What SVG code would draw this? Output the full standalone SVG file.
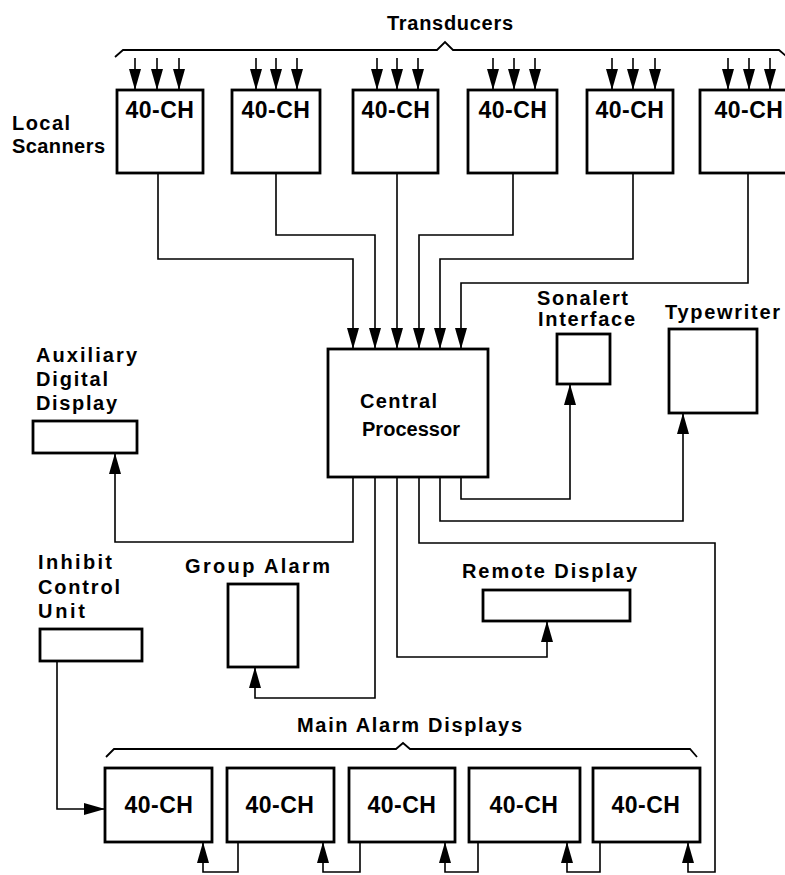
<svg xmlns="http://www.w3.org/2000/svg" width="785" height="875" viewBox="0 0 785 875">
<style>
.box{fill:#fff;stroke:#000;stroke-width:2.8}
.ln{fill:none;stroke:#000;stroke-width:1.6}
.ar{fill:none;stroke:#000;stroke-width:1.6;marker-end:url(#ah)}
.br{fill:none;stroke:#000;stroke-width:1.8}
text{font-family:"Liberation Sans",Arial,sans-serif;font-weight:bold;fill:#000}
.lb{font-size:20px}
.ch{font-size:23px;letter-spacing:0.5px;text-anchor:middle}
</style>
<defs>
<marker id="ah" markerUnits="userSpaceOnUse" markerWidth="22" markerHeight="12" refX="21" refY="6" orient="auto">
<path d="M0,0 L21,6 L0,12 Z" fill="#000"/>
</marker>
</defs>
<rect width="785" height="875" fill="#fff"/>

<g id="transducers">
<text class="lb" x="387" y="30" textLength="126" lengthAdjust="spacing">Transducers</text>
<path class="br" d="M115,57 L123,50 L437,50 L445,42 L453,50 L779,50 L786,56"/>
<path class="ar" d="M135,58 V90"/><path class="ar" d="M157,58 V90"/><path class="ar" d="M179,58 V90"/>
<path class="ar" d="M256,58 V90"/><path class="ar" d="M276,58 V90"/><path class="ar" d="M297,58 V90"/>
<path class="ar" d="M377,58 V90"/><path class="ar" d="M397,58 V90"/><path class="ar" d="M418,58 V90"/>
<path class="ar" d="M493,58 V90"/><path class="ar" d="M514,58 V90"/><path class="ar" d="M535,58 V90"/>
<path class="ar" d="M612,58 V90"/><path class="ar" d="M633,58 V90"/><path class="ar" d="M655,58 V90"/>
<path class="ar" d="M728,58 V90"/><path class="ar" d="M749,58 V90"/><path class="ar" d="M770,58 V90"/>
</g>

<g id="local-scanners-label">
<text class="lb" x="12" y="130" textLength="58" lengthAdjust="spacing">Local</text>
<text class="lb" x="12" y="153" textLength="93" lengthAdjust="spacing">Scanners</text>
</g>

<g id="scanner1"><rect class="box" x="117" y="90" width="86" height="83"/><text class="ch" x="160" y="118">40-CH</text></g>
<g id="scanner2"><rect class="box" x="232" y="90" width="88" height="83"/><text class="ch" x="276" y="118">40-CH</text></g>
<g id="scanner3"><rect class="box" x="353" y="90" width="85" height="83"/><text class="ch" x="396" y="118">40-CH</text></g>
<g id="scanner4"><rect class="box" x="468" y="90" width="89" height="83"/><text class="ch" x="513" y="118">40-CH</text></g>
<g id="scanner5"><rect class="box" x="587" y="90" width="86" height="83"/><text class="ch" x="630" y="118">40-CH</text></g>
<g id="scanner6"><rect class="box" x="700" y="90" width="92" height="83"/><text class="ch" x="749" y="118">40-CH</text></g>

<g id="central-processor">
<rect class="box" x="328" y="349" width="160" height="128"/>
<text class="lb" x="360" y="408" textLength="77" lengthAdjust="spacing">Central</text>
<text class="lb" x="362" y="436" textLength="98" lengthAdjust="spacing">Processor</text>
</g>

<g id="aux-display">
<text class="lb" x="36" y="362" textLength="101" lengthAdjust="spacing">Auxiliary</text>
<text class="lb" x="36" y="386" textLength="72" lengthAdjust="spacing">Digital</text>
<text class="lb" x="36" y="410" textLength="81" lengthAdjust="spacing">Display</text>
<rect class="box" x="33" y="421" width="104" height="32"/>
</g>

<g id="sonalert">
<text class="lb" x="537" y="305" textLength="91" lengthAdjust="spacing">Sonalert</text>
<text class="lb" x="538" y="326" textLength="97" lengthAdjust="spacing">Interface</text>
<rect class="box" x="557" y="334" width="53" height="50"/>
</g>

<g id="typewriter">
<text class="lb" x="665" y="319" textLength="115" lengthAdjust="spacing">Typewriter</text>
<rect class="box" x="669" y="329" width="88" height="84"/>
</g>

<g id="inhibit">
<text class="lb" x="38" y="569" textLength="74" lengthAdjust="spacing">Inhibit</text>
<text class="lb" x="38" y="594" textLength="82" lengthAdjust="spacing">Control</text>
<text class="lb" x="38" y="618" textLength="47" lengthAdjust="spacing">Unit</text>
<rect class="box" x="40" y="629" width="102" height="32"/>
</g>

<g id="group-alarm">
<text class="lb" x="185" y="573" textLength="145" lengthAdjust="spacing">Group Alarm</text>
<rect class="box" x="228" y="584" width="70" height="83"/>
</g>

<g id="remote-display">
<text class="lb" x="462" y="578" textLength="175" lengthAdjust="spacing">Remote Display</text>
<rect class="box" x="483" y="590" width="147" height="31"/>
</g>

<g id="main-alarm-label">
<text class="lb" x="297" y="732" textLength="225" lengthAdjust="spacing">Main Alarm Displays</text>
<path class="br" d="M106,757 L114,749 L396,749 L403,743 L410,749 L690,749 L697,757"/>
</g>

<g id="alarm1"><rect class="box" x="105" y="768" width="107" height="74"/><text class="ch" x="159" y="813">40-CH</text></g>
<g id="alarm2"><rect class="box" x="227" y="768" width="107" height="74"/><text class="ch" x="280" y="813">40-CH</text></g>
<g id="alarm3"><rect class="box" x="349" y="768" width="106" height="74"/><text class="ch" x="402" y="813">40-CH</text></g>
<g id="alarm4"><rect class="box" x="469" y="768" width="111" height="74"/><text class="ch" x="524" y="813">40-CH</text></g>
<g id="alarm5"><rect class="box" x="593" y="768" width="107" height="74"/><text class="ch" x="646" y="813">40-CH</text></g>

<g id="connectors">
<path class="ar" d="M158,173 V259 H353 V349"/>
<path class="ar" d="M276,173 V235 H375 V349"/>
<path class="ar" d="M397,173 V349"/>
<path class="ar" d="M513,173 V235 H419 V349"/>
<path class="ar" d="M633,173 V259 H440 V349"/>
<path class="ar" d="M748,173 V283 H461 V349"/>
<path class="ar" d="M353,477 V542 H115 V453"/>
<path class="ar" d="M375,477 V698 H255 V667"/>
<path class="ar" d="M397,477 V657 H547 V621"/>
<path class="ar" d="M419,477 V543 H715 V872 H688 V842"/>
<path class="ar" d="M440,477 V521 H683 V413"/>
<path class="ar" d="M461,477 V499 H570 V384"/>
<path class="ar" d="M57,661 V809 H105"/>
<path class="ar" d="M238,842 V872 H203 V842"/>
<path class="ar" d="M360,842 V872 H323 V842"/>
<path class="ar" d="M478,842 V872 H445 V842"/>
<path class="ar" d="M600,842 V872 H567 V842"/>
</g>
</svg>
